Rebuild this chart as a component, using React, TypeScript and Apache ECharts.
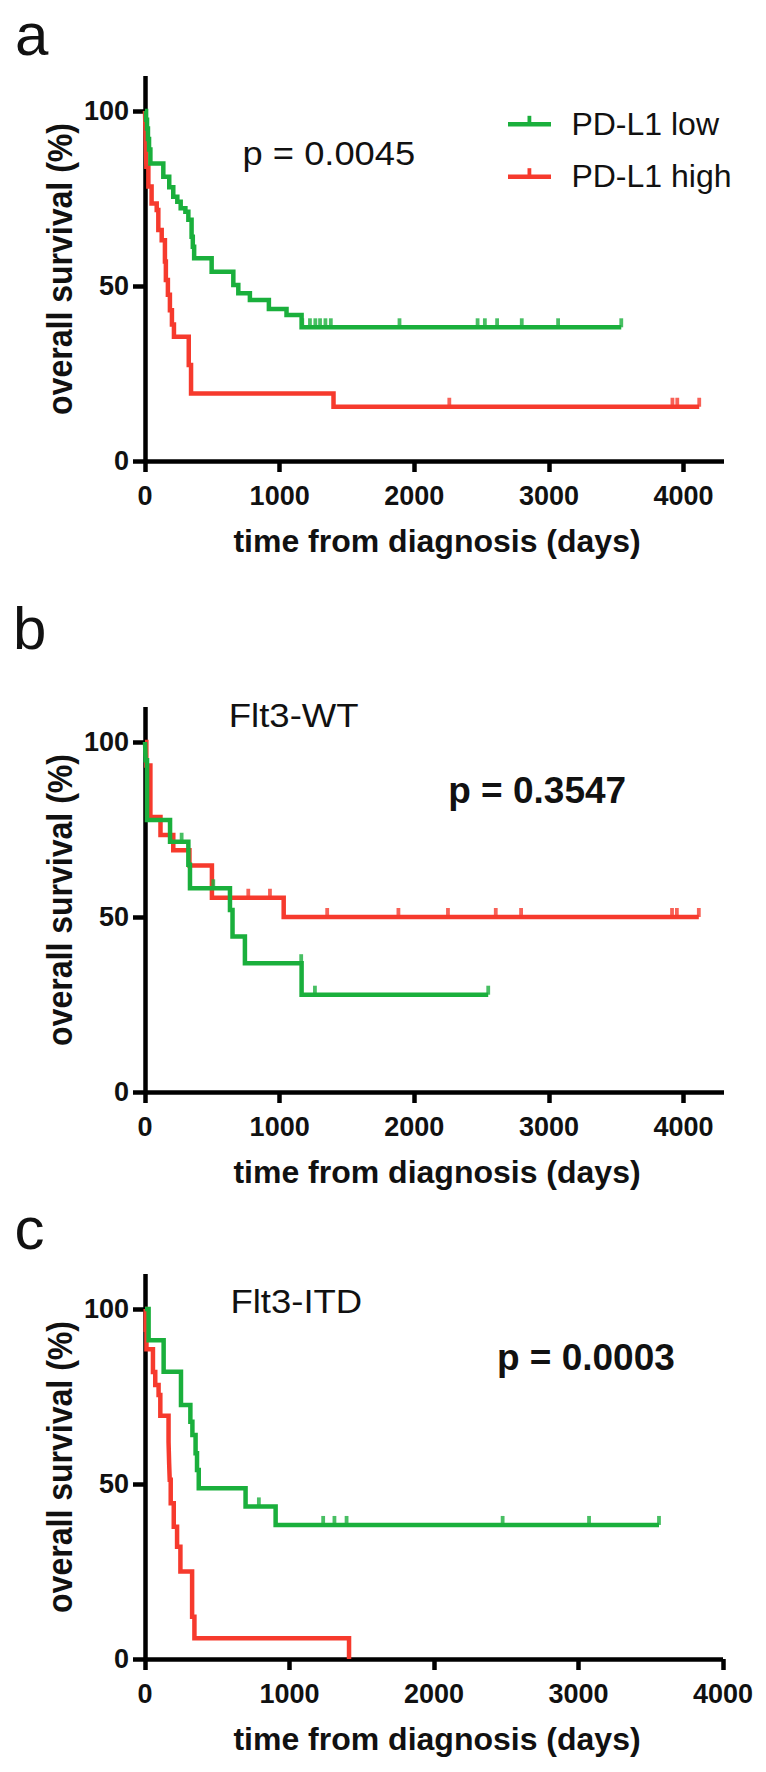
import React, { useEffect, useRef } from "react";
import * as echarts from "echarts";

// ---------- data (days, overall survival %) ----------
// Panel a: all patients
const A_LOW_STEPS: [number, number][] = [
  [0, 100], [8, 97.5], [15, 95], [22, 92], [30, 89], [40, 85], [136, 81.2], [180, 78.2],
  [210, 75.5], [240, 74.1], [265, 72.2], [300, 71.2], [322, 68.9], [346, 64.1], [355, 61.2],
  [365, 57.9], [495, 54.1], [656, 50.3], [693, 47.9], [779, 46.0], [920, 43.4], [1051, 41.7],
  [1163, 38.2],
];
const A_LOW_CENSOR: number[] = [1168, 1225, 1265, 1300, 1340, 1380, 1890, 2470, 2524, 2615, 2798, 3068, 3537];
const A_HIGH_STEPS: [number, number][] = [
  [0, 100], [5, 92], [10, 84.1], [25, 78.4], [49, 73.6], [87, 71.7], [99, 66], [124, 63.1],
  [148, 57], [155, 51.7], [170, 47.5], [185, 43.1], [200, 39], [215, 35.5], [325, 27.4],
  [342, 19.3], [1400, 15.5],
];
const A_HIGH_CENSOR: number[] = [2260, 3917, 3953, 4116];

// Panel b: Flt3-WT
const B_LOW_STEPS: [number, number][] = [
  [0, 100], [5, 94.8], [15, 77.7], [186, 71.5], [322, 64.9], [334, 58.2], [631, 52.0],
  [650, 44.4], [742, 36.8], [1163, 27.8],
];
const B_LOW_CENSOR: number[] = [272, 507, 1160, 1262, 2549];
const B_HIGH_STEPS: [number, number][] = [
  [0, 100], [10, 93.3], [40, 78.6], [115, 73.4], [210, 69.1], [330, 64.7], [497, 55.5], [1030, 50],
];
const B_HIGH_CENSOR: number[] = [767, 928, 1353, 1882, 2250, 2605, 2793, 3914, 3950, 4113];

// Panel c: Flt3-ITD
const C_LOW_STEPS: [number, number][] = [
  [0, 100], [25, 91.1], [129, 82.1], [249, 72.6], [314, 67.8], [328, 64.0], [350, 58.8],
  [360, 54.0], [372, 48.8], [696, 43.6], [904, 38.3],
];
const C_LOW_CENSOR: number[] = [788, 1233, 1311, 1395, 2475, 3073, 3557];
const C_HIGH_STEPS: [number, number][] = [
  [0, 100], [5, 94.1], [10, 88.5], [55, 82], [71, 78.3], [94, 75.4], [106, 69.5], [163, 62],
  [167, 56], [171, 51.2], [178, 44.5], [199, 37.8], [222, 32.1], [245, 25.0], [326, 12.1],
  [342, 5.9], [1412, 0],
];
const C_HIGH_CENSOR: number[] = [];

// ---------- axes ----------
const X_TICKS: number[] = [0, 1000, 2000, 3000, 4000];
const Y_TICKS: number[] = [0, 50, 100];
const X_MAX_AB = 4300;
const X_MAX_C = 4000;
const Y_MAX = 110;

const SERIES_LOW = "PD-L1 low";
const SERIES_HIGH = "PD-L1 high";
const X_NAME = "time from diagnosis (days)";
const Y_NAME = "overall survival (%)";
const PANEL_LETTERS = ["a", "b", "c"];
const P_VALUES = ["p = 0.0045", "p = 0.3547", "p = 0.0003"];
const SUBTITLES = ["Flt3-WT", "Flt3-ITD"];

// ---------- style ----------
const GREEN = "#1aaf3c";
const RED = "#f63a2d";
const FONT = "'Liberation Sans', Arial, Helvetica, sans-serif";

const GRIDS = [
  { left: 145, top: 76, width: 579, height: 385 },
  { left: 145, top: 707, width: 579, height: 385 },
  { left: 145, top: 1274, width: 578, height: 385 },
];

function survAt(steps: [number, number][], t: number): number {
  let s = steps[0][1];
  for (const [d, v] of steps) {
    if (d <= t) s = v;
    else break;
  }
  return s;
}

function curve(steps: [number, number][], censor: number[]): [number, number][] {
  const pts: [number, number][] = steps.map((p) => [p[0], p[1]]);
  const lastStep = steps[steps.length - 1];
  if (censor.length) {
    const last = censor[censor.length - 1];
    if (last > lastStep[0]) pts.push([last, lastStep[1]]);
  }
  return pts;
}

function censorPts(steps: [number, number][], censor: number[]): [number, number][] {
  return censor.map((t) => [t, survAt(steps, t)]);
}

function lineSeries(name: string, idx: number, data: [number, number][], color: string) {
  return {
    name,
    type: "line",
    xAxisIndex: idx,
    yAxisIndex: idx,
    step: "end",
    data,
    showSymbol: false,
    symbol: "none",
    lineStyle: { color, width: 4.5, join: "miter", cap: "butt" },
    silent: true,
    z: 3,
  };
}

function tickSeries(name: string, idx: number, data: [number, number][], color: string) {
  return {
    name,
    type: "scatter",
    xAxisIndex: idx,
    yAxisIndex: idx,
    data,
    symbol: "rect",
    symbolSize: [3.8, 9],
    symbolOffset: [0, -4.5],
    itemStyle: { color },
    silent: true,
    z: 4,
  };
}

function text(
  str: string,
  x: number,
  y: number,
  size: number,
  weight: string,
  align: string,
  extra: any = {}
) {
  return {
    type: "text",
    x,
    y,
    ...extra,
    style: {
      text: str,
      fontSize: size,
      fontWeight: weight,
      fontFamily: FONT,
      fill: "#111",
      textAlign: align,
      align,
      textVerticalAlign: "middle",
      verticalAlign: "middle",
    },
    silent: true,
  };
}

const plainNumber = (v: number) => String(Math.round(v));

export default function App() {
  const ref = useRef<HTMLDivElement>(null);

  useEffect(() => {
    if (!ref.current) return;
    const chart = echarts.init(ref.current, null, { renderer: "svg" });

    const xMaxes = [X_MAX_AB, X_MAX_AB, X_MAX_C];
    const xAxis = GRIDS.map((_, i) => ({
      gridIndex: i,
      type: "value",
      min: 0,
      max: xMaxes[i],
      interval: 1000,
      axisLine: { show: true, onZero: false, lineStyle: { color: "#000", width: 4.5, cap: "butt" } },
      axisTick: {
        show: true,
        inside: false,
        length: 11,
        customValues: X_TICKS,
        lineStyle: { color: "#000", width: 4.5 },
      },
      axisLabel: {
        show: true,
        customValues: X_TICKS,
        formatter: plainNumber,
        margin: 21,
        fontSize: 27,
        fontWeight: "bold",
        fontFamily: FONT,
        color: "#111",
      },
      splitLine: { show: false },
    }));
    const yAxis = GRIDS.map((_, i) => ({
      gridIndex: i,
      type: "value",
      min: 0,
      max: Y_MAX,
      interval: 50,
      axisLine: { show: true, onZero: false, lineStyle: { color: "#000", width: 4.5, cap: "butt" } },
      axisTick: {
        show: true,
        inside: false,
        length: 12,
        customValues: Y_TICKS,
        lineStyle: { color: "#000", width: 4.5 },
      },
      axisLabel: {
        show: true,
        customValues: Y_TICKS,
        formatter: plainNumber,
        margin: 16,
        fontSize: 27,
        fontWeight: "bold",
        fontFamily: FONT,
        color: "#111",
      },
      splitLine: { show: false },
    }));

    const panels = [
      { low: A_LOW_STEPS, lowC: A_LOW_CENSOR, high: A_HIGH_STEPS, highC: A_HIGH_CENSOR },
      { low: B_LOW_STEPS, lowC: B_LOW_CENSOR, high: B_HIGH_STEPS, highC: B_HIGH_CENSOR },
      { low: C_LOW_STEPS, lowC: C_LOW_CENSOR, high: C_HIGH_STEPS, highC: C_HIGH_CENSOR },
    ];

    const series: any[] = [];
    panels.forEach((p, i) => {
      series.push(lineSeries(SERIES_HIGH, i, curve(p.high, p.highC), RED));
      series.push(lineSeries(SERIES_LOW, i, curve(p.low, p.lowC), GREEN));
      if (p.highC.length) series.push(tickSeries(SERIES_HIGH, i, censorPts(p.high, p.highC), RED));
      if (p.lowC.length) series.push(tickSeries(SERIES_LOW, i, censorPts(p.low, p.lowC), GREEN));
    });

    const graphic: any[] = [];
    // panel letters
    const letterPos = [
      [15, 34],
      [13, 628.5],
      [14.5, 1228.5],
    ];
    PANEL_LETTERS.forEach((l, i) =>
      graphic.push(text(l, letterPos[i][0], letterPos[i][1], 60, "normal", "left"))
    );
    // axis names
    GRIDS.forEach((g) => {
      const axisY = g.top + g.height;
      graphic.push(text(X_NAME, 437, axisY + 79.6, 32, "bold", "center"));
      graphic.push(
        text(Y_NAME, 59.5, g.top + g.height / 2 + 0.5, 36, "bold", "center", {
          rotation: Math.PI / 2,
          scaleX: 0.89,
        })
      );
    });
    // p values & subtitles
    graphic.push(text(P_VALUES[0], 242.6, 153.6, 33, "normal", "left", { scaleX: 1.1 }));
    graphic.push(text(P_VALUES[1], 448.2, 790.2, 37, "bold", "left"));
    graphic.push(text(P_VALUES[2], 496.9, 1357.2, 37, "bold", "left"));
    graphic.push(text(SUBTITLES[0], 228.8, 715.1, 33.5, "normal", "left", { scaleX: 1.09 }));
    graphic.push(text(SUBTITLES[1], 230.4, 1301.1, 33.5, "normal", "left", { scaleX: 1.09 }));
    // legend (panel a)
    const legendItems = [
      { name: SERIES_LOW, color: GREEN, y: 124.3 },
      { name: SERIES_HIGH, color: RED, y: 176.7 },
    ];
    legendItems.forEach((it) => {
      graphic.push({
        type: "line",
        shape: { x1: 508, y1: it.y, x2: 551, y2: it.y },
        style: { stroke: it.color, lineWidth: 4.5 },
        silent: true,
      });
      graphic.push({
        type: "rect",
        shape: { x: 527.5, y: it.y - 8.5, width: 3.8, height: 8.5 },
        style: { fill: it.color },
        silent: true,
      });
      graphic.push(text(it.name, 571.4, it.y - 0.5, 32, "normal", "left"));
    });

    chart.setOption({
      animation: false,
      backgroundColor: "#ffffff",
      textStyle: { fontFamily: FONT },
      grid: GRIDS.map((g) => ({ ...g, containLabel: false, outerBoundsMode: "none" })),
      xAxis,
      yAxis,
      series,
      graphic,
    } as any);

    return () => {
      chart.dispose();
    };
  }, []);

  return (
    <div
      ref={ref}
      style={{ position: "absolute", left: 0, top: 0, width: 766, height: 1772, background: "#fff" }}
    />
  );
}
